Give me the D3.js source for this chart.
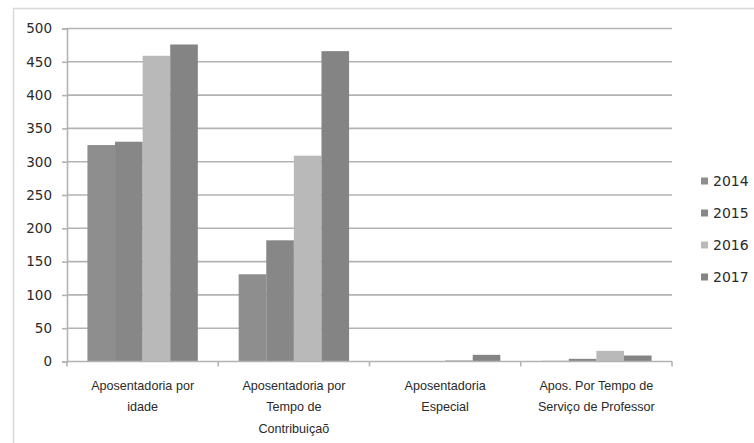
<!DOCTYPE html>
<html>
<head>
<meta charset="utf-8">
<script src="https://cdn.jsdelivr.net/npm/d3@7"></script>
<style>
  body { margin: 0; background: #fff; }
  svg { display: block; }
  .tick-y text { font-family: "DejaVu Sans", sans-serif; font-size: 13.5px; fill: #2a2a2a; }
  .cat-label { font-family: "Liberation Sans", Arial, sans-serif; font-size: 12.6px; fill: #2a2a2a; }
  .legend text { font-family: "DejaVu Sans", sans-serif; font-size: 14px; fill: #2a2a2a; }
</style>
</head>
<body>
<svg id="chart" width="754" height="443"></svg>
<script>
// ----------

const CATEGORIES = [
  "Aposentadoria por\nidade",
  "Aposentadoria por\nTempo de\nContribuiçaõ",
  "Aposentadoria\nEspecial",
  "Apos. Por Tempo de\nServiço de Professor"
];
const YEARS = ["2014", "2015", "2016", "2017"];
const VALUES_2014 = [325, 131, 0, 1];
const VALUES_2015 = [330, 182, 0, 4];
const VALUES_2016 = [459, 309, 2, 16];
const VALUES_2017 = [476, 466, 10, 9];
const Y_TICKS = [0, 50, 100, 150, 200, 250, 300, 350, 400, 450, 500];
const COLORS = ["#8e8e8e", "#878787", "#b9b9b9", "#848484"];

const GRID_COLOR = "#b3b3b3";
const BORDER_COLOR = "#d9d9d9";

// ----------

const seriesValues = [VALUES_2014, VALUES_2015, VALUES_2016, VALUES_2017];
const rows = CATEGORIES.map(function (c, i) {
  return { name: c, values: YEARS.map(function (y, j) { return { year: y, value: seriesValues[j][i] }; }) };
});

const svg = d3.select("#chart");
const plot = { left: 67, right: 672, top: 28.5, bottom: 361.5 };

// outer chart border (only top and left visible)
svg.append("path")
  .attr("d", "M13.5,443 V8.5 H754")
  .attr("fill", "none")
  .attr("stroke", BORDER_COLOR)
  .attr("stroke-width", 1.5);

let y = d3.scaleLinear().domain([0, 500]).range([plot.bottom, plot.top]);
let x0 = d3.scaleBand()
  .domain(CATEGORIES)
  .range([plot.left, plot.right])
  .paddingInner(0.27)
  .paddingOuter(0.135);
let x1 = d3.scaleBand().domain(YEARS).range([0, x0.bandwidth()]);

// gridlines
svg.append("g")
  .selectAll("line")
  .data(Y_TICKS.filter(function (d) { return d > 0; }))
  .enter()
  .append("line")
  .attr("x1", plot.left)
  .attr("x2", plot.right)
  .attr("y1", function (d) { return y(d); })
  .attr("y2", function (d) { return y(d); })
  .attr("stroke", GRID_COLOR)
  .attr("stroke-width", 1.6);

// y axis
let yAxis = svg.append("g")
  .attr("class", "tick-y")
  .attr("transform", "translate(" + plot.left + ",0)")
  .call(d3.axisLeft(y).tickValues(Y_TICKS).tickSize(5).tickPadding(10));
yAxis.select(".domain").attr("stroke", GRID_COLOR).attr("stroke-width", 1.6);
yAxis.selectAll(".tick line").attr("stroke", GRID_COLOR).attr("stroke-width", 1.6);

// bars
let groups = svg.append("g")
  .selectAll("g")
  .data(rows)
  .enter()
  .append("g")
  .attr("transform", function (d) { return "translate(" + x0(d.name) + ",0)"; });

groups.selectAll("rect")
  .data(function (d) { return d.values; })
  .enter()
  .append("rect")
  .attr("x", function (d) { return x1(d.year); })
  .attr("width", x1.bandwidth())
  .attr("y", function (d) { return y(d.value); })
  .attr("height", function (d) { return plot.bottom - y(d.value); })
  .attr("fill", function (d, i) { return COLORS[i]; });

// x axis with ticks at category boundaries
let step = x0.step();
let xAxis = svg.append("g");
xAxis.append("line")
  .attr("x1", plot.left).attr("x2", plot.right)
  .attr("y1", plot.bottom).attr("y2", plot.bottom)
  .attr("stroke", GRID_COLOR).attr("stroke-width", 1.6);
xAxis.selectAll("line.tick")
  .data(d3.range(CATEGORIES.length + 1))
  .enter()
  .append("line")
  .attr("class", "tick")
  .attr("x1", function (i) { return plot.left + i * step; })
  .attr("x2", function (i) { return plot.left + i * step; })
  .attr("y1", plot.bottom)
  .attr("y2", plot.bottom + 5)
  .attr("stroke", GRID_COLOR)
  .attr("stroke-width", 1.6);

// category labels
let labels = svg.append("g")
  .selectAll("text")
  .data(CATEGORIES)
  .enter()
  .append("text")
  .attr("class", "cat-label")
  .attr("text-anchor", "middle")
  .attr("x", function (d) { return x0(d) + x0.bandwidth() / 2; });

labels.selectAll("tspan")
  .data(function (d) { return d.split("\n"); })
  .enter()
  .append("tspan")
  .attr("x", function () { return d3.select(this.parentNode).attr("x"); })
  .attr("y", function (d, i) { return 389.5 + i * 21.5; })
  .text(function (d) { return d; });

// legend
let legend = svg.append("g")
  .attr("class", "legend")
  .selectAll("g")
  .data(YEARS)
  .enter()
  .append("g")
  .attr("transform", function (d, i) { return "translate(701," + (181 + i * 32) + ")"; });

legend.append("rect")
  .attr("x", 0)
  .attr("y", -3.5)
  .attr("width", 7)
  .attr("height", 7)
  .attr("fill", function (d, i) { return COLORS[i]; });

legend.append("text")
  .attr("x", 12)
  .attr("y", 5)
  .text(function (d) { return d; });
</script>
</body>
</html>
